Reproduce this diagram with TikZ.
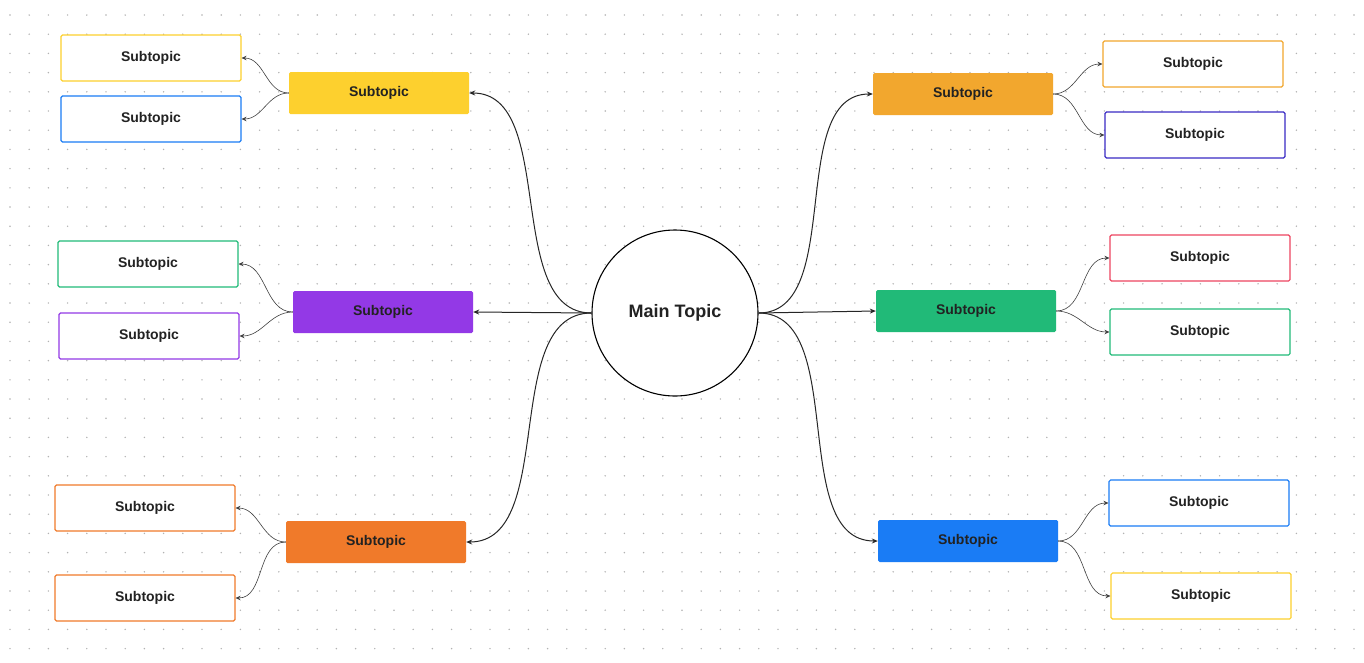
\documentclass[tikz,border=0pt]{standalone}
\usepackage{fontspec}
\setmainfont{Liberation Sans}
\usetikzlibrary{arrows.meta}
\definecolor{cyel}{HTML}{FDD02E}
\definecolor{cpur}{HTML}{9339E6}
\definecolor{cora}{HTML}{F07A2A}
\definecolor{camb}{HTML}{F2A72E}
\definecolor{cgrn}{HTML}{21BA78}
\definecolor{cblu}{HTML}{1A7CF5}
\definecolor{cind}{HTML}{3A2BC4}
\definecolor{cred}{HTML}{EE4460}
\definecolor{ctxt}{HTML}{222222}
\tikzset{
  filledbox/.style={fill=#1, draw=none, rounded corners=1.5pt, minimum width=180pt, minimum height=42pt, font=\bfseries\fontsize{14}{16}\selectfont, text=ctxt},
  linebox/.style={fill=white, draw=#1, line width=1.1pt, rounded corners=1.5pt, minimum width=180pt, minimum height=46pt, font=\bfseries\fontsize{14}{16}\selectfont, text=ctxt},
  mainedge/.style={draw=black!85, line width=1pt, -{Stealth[length=6pt,width=5pt]}},
  subedge/.style={draw=black!75, line width=0.6pt, -{Stealth[length=5pt,width=4.5pt]}}
}
\begin{document}
\begin{tikzpicture}[x=1pt,y=-1pt]
\useasboundingbox (0,0) rectangle (1364,662);
\fill[white] (0,0) rectangle (1364,662);
\foreach \i in {0,...,70} {\foreach \j in {0,...,33} {
  \fill[black!30] (10+\i*19.2, 15+\j*19.2) circle (0.8pt);}}
\node[draw=black, line width=1.1pt, fill=white, circle, minimum size=166pt, font=\bfseries\fontsize{18}{20}\selectfont, text=ctxt] (m) at (675,313) {Main Topic};
\node[filledbox=cyel] (l1) at (379,93) {Subtopic};
\node[filledbox=cpur] (l2) at (383,312) {Subtopic};
\node[filledbox=cora] (l3) at (376,542) {Subtopic};
\node[filledbox=camb] (r1) at (963,94) {Subtopic};
\node[filledbox=cgrn] (r2) at (966,311) {Subtopic};
\node[filledbox=cblu] (r3) at (968,541) {Subtopic};
\node[linebox=cyel] (a1) at (151,58) {Subtopic};
\node[linebox=cblu] (a2) at (151,119) {Subtopic};
\node[linebox=cgrn] (b1) at (148,264) {Subtopic};
\node[linebox=cpur] (b2) at (149,336) {Subtopic};
\node[linebox=cora] (c1) at (145,508) {Subtopic};
\node[linebox=cora] (c2) at (145,598) {Subtopic};
\node[linebox=camb] (d1) at (1193,64) {Subtopic};
\node[linebox=cind] (d2) at (1195,135) {Subtopic};
\node[linebox=cred] (e1) at (1200,258) {Subtopic};
\node[linebox=cgrn] (e2) at (1200,332) {Subtopic};
\node[linebox=cblu] (f1) at (1199,503) {Subtopic};
\node[linebox=cyel] (f2) at (1201,596) {Subtopic};
\draw[mainedge] (m.west) to[out=180,in=0,looseness=0.9] (l1.east);
\draw[mainedge] (m.west) to (l2.east);
\draw[mainedge] (m.west) to[out=180,in=0,looseness=0.9] (l3.east);
\draw[mainedge] (m.east) to[out=0,in=180,looseness=0.9] (r1.west);
\draw[mainedge] (m.east) to (r2.west);
\draw[mainedge] (m.east) to[out=0,in=180,looseness=0.9] (r3.west);
\draw[subedge] (l1.west) to[out=180,in=0] (a1.east);
\draw[subedge] (l1.west) to[out=180,in=0] (a2.east);
\draw[subedge] (l2.west) to[out=180,in=0] (b1.east);
\draw[subedge] (l2.west) to[out=180,in=0] (b2.east);
\draw[subedge] (l3.west) to[out=180,in=0] (c1.east);
\draw[subedge] (l3.west) to[out=180,in=0] (c2.east);
\draw[subedge] (r1.east) to[out=0,in=180] (d1.west);
\draw[subedge] (r1.east) to[out=0,in=180] (d2.west);
\draw[subedge] (r2.east) to[out=0,in=180] (e1.west);
\draw[subedge] (r2.east) to[out=0,in=180] (e2.west);
\draw[subedge] (r3.east) to[out=0,in=180] (f1.west);
\draw[subedge] (r3.east) to[out=0,in=180] (f2.west);
\end{tikzpicture}
\end{document}
